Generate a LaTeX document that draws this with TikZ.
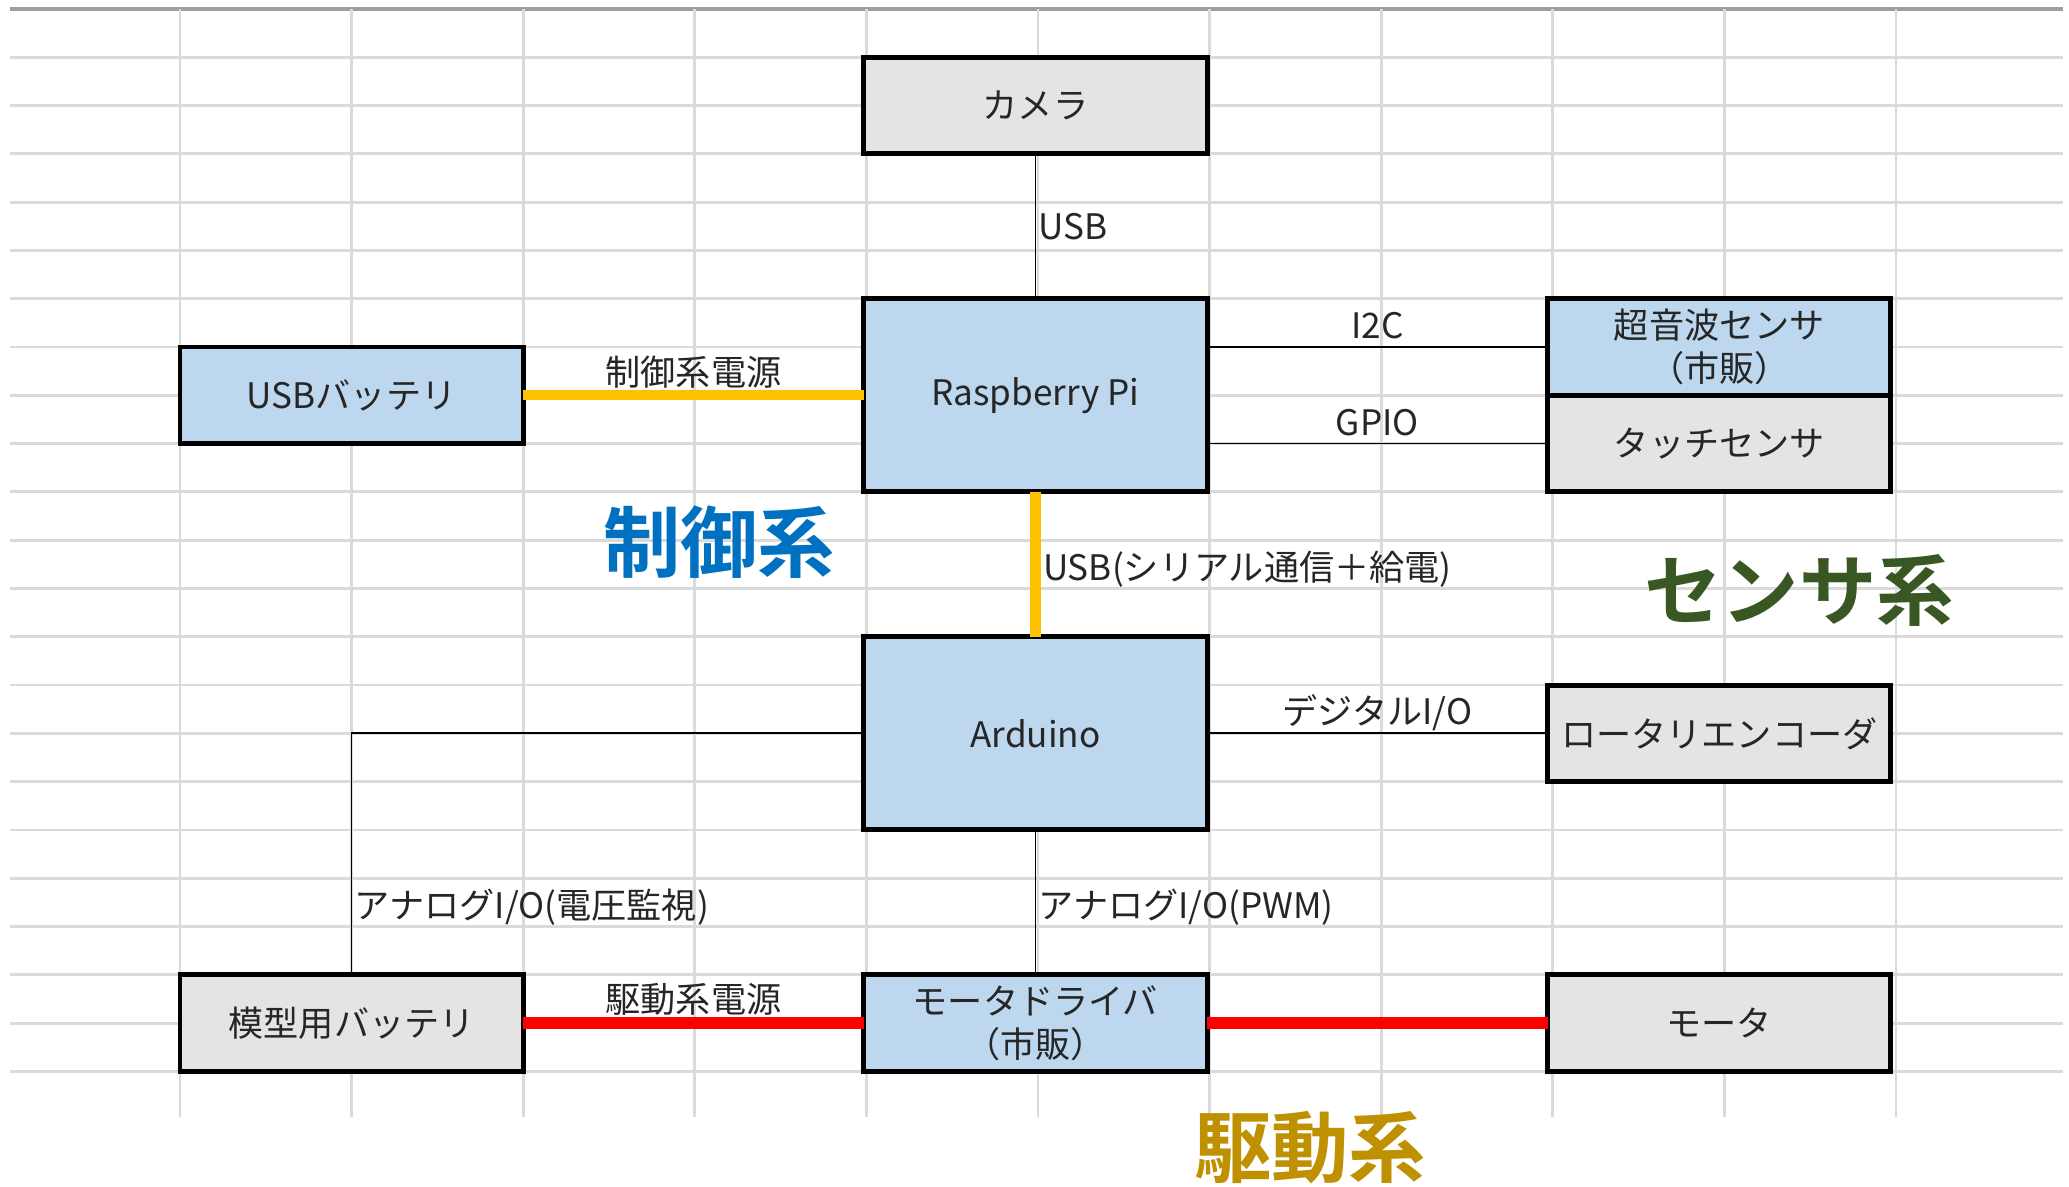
\documentclass[tikz,border=0pt]{standalone}
\usepackage{fontspec}
\setmainfont{Noto Sans CJK JP}[BoldFont={Noto Sans CJK JP Bold}]
\definecolor{boxblue}{RGB}{189,215,238}
\definecolor{boxgray}{RGB}{228,228,228}
\definecolor{gridgray}{RGB}{218,218,218}
\definecolor{ctrlblue}{RGB}{0,112,192}
\definecolor{sensegreen}{RGB}{56,87,35}
\definecolor{drivegold}{RGB}{191,144,0}
\definecolor{pwrorange}{RGB}{255,192,0}
\tikzset{
  gridline/.style={draw=gridgray, line width=0.8pt},
  topline/.style={draw=black!38, line width=1pt},
  unitbox/.style={draw, line width=1.4pt, rectangle, inner sep=0pt, outer sep=0pt,
    minimum width=3.432cm, minimum height=0.9658cm, align=center,
    text=black!85, font=\fontsize{10}{12.4}\selectfont},
  tallbox/.style={minimum height=1.9316cm},
  wire/.style={line width=0.5pt},
  ctrlpwr/.style={draw=pwrorange, line width=2.9pt},
  drivepwr/.style={draw=red, line width=3.2pt},
  lbl/.style={font=\fontsize{10}{12}\selectfont, text=black!85, inner sep=2pt},
  lblkana/.style={lbl, inner sep=0.5pt},
  lblside/.style={lbl, right, inner sep=0.7pt},
  grp/.style={font=\fontsize{22}{26}\selectfont\bfseries}
}
\begin{document}
\begin{tikzpicture}[x=1.716cm, y=-0.4829cm]
\useasboundingbox (-1.049,-0.186) rectangle (11.008,24.374);
\fill[white] (-1.049,-0.186) rectangle (11.008,24.374);
\foreach \r in {1,...,22} \draw[gridline] (-0.99,\r) -- (10.973,\r);
\draw[topline] (-0.99,0) -- (10.973,0);
\foreach \c in {0,...,10} \draw[gridline] (\c,0) -- (\c,22.94);

\node[unitbox, fill=boxgray] (camera) at (4.985,2){カメラ};
\node[unitbox, tallbox, fill=boxblue] (rpi) at (4.985,8){Raspberry Pi};
\node[unitbox, fill=boxblue] (usbbat) at (1,8){USBバッテリ};
\node[unitbox, fill=boxblue] (sonic) at (8.97,7){超音波センサ\\（市販）};
\node[unitbox, fill=boxgray] (touch) at (8.97,9){タッチセンサ};
\node[unitbox, tallbox, fill=boxblue] (arduino) at (4.985,15){Arduino};
\node[unitbox, fill=boxgray] (encoder) at (8.97,15){ロータリエンコーダ};
\node[unitbox, fill=boxgray] (modelbat) at (1,21){模型用バッテリ};
\node[unitbox, fill=boxblue] (driver) at (4.985,21){モータドライバ\\（市販）};
\node[unitbox, fill=boxgray] (motor) at (8.97,21){モータ};

\draw[wire] (camera) -- node[lblside]{USB} (rpi);
\draw[wire] (rpi.east |- sonic) -- node[lbl, above]{I2C} (sonic);
\draw[wire] (rpi.east |- touch) -- node[lbl, above]{GPIO} (touch);
\draw[ctrlpwr] (usbbat) -- node[lblkana, above]{制御系電源} (rpi);
\draw[ctrlpwr] (rpi) -- node[lblside, pos=0.53]{USB(シリアル通信＋給電)} (arduino);
\draw[wire] (arduino) -- node[lblkana, above]{デジタルI/O} (encoder);
\draw[wire] (arduino) -| node[lblside, pos=0.86]{アナログI/O(電圧監視)} (modelbat);
\draw[wire] (arduino) -- node[lblside, pos=0.53]{アナログI/O(PWM)} (driver);
\draw[drivepwr] (modelbat) -- node[lblkana, above]{駆動系電源} (driver);
\draw[drivepwr] (driver) -- (motor);

\node[grp, text=ctrlblue] (ctrl) at (3.141,11.04){制御系};
\node[grp, text=sensegreen] (sense) at (9.435,12.05){センサ系};
\node[grp, text=drivegold] (drive) at (6.585,23.57){駆動系};
\end{tikzpicture}
\end{document}
